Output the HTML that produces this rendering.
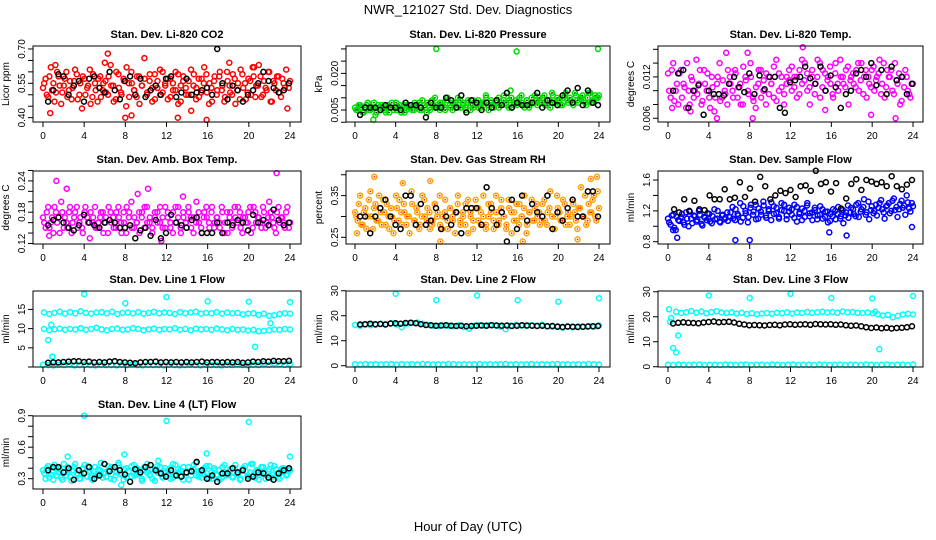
<!DOCTYPE html>
<html><head><meta charset="utf-8">
<style>
html,body{margin:0;padding:0;background:#fff;}
svg{display:block;font-family:"Liberation Sans",Arial,sans-serif;}
</style></head>
<body>
<svg id="chart" width="936" height="540" viewBox="0 0 936 540" xmlns="http://www.w3.org/2000/svg">
<rect x="0" y="0" width="936" height="540" fill="#fff"/>
<text x="468" y="14" text-anchor="middle" font-size="13">NWR_121027  Std. Dev. Diagnostics</text>
<text x="468" y="531" text-anchor="middle" font-size="13">Hour of Day (UTC)</text>
</svg>
<script>
// ---------- data ----------
const xTicks = [0,4,8,12,16,20,24];

const co2Red = [.53,.57,.49,.62,.55,.51,.58,.46,.54,.60,.52,.48,.56,.59,.50,.44,.57,.53,.61,.49,.55,.47,.58,.52,
.56,.50,.63,.54,.48,.59,.51,.57,.45,.55,.60,.52,.49,.58,.54,.66,.50,.56,.47,.59,.53,.61,.51,.55,
.48,.57,.52,.60,.46,.54,.58,.50,.56,.43,.59,.53,.49,.57,.62,.51,.55,.47,.58,.52,.60,.54,.49,.56,
.51,.59,.46,.55,.61,.53,.48,.57,.50,.58,.54,.63,.49,.56,.52,.60,.47,.55,.58,.51,.57,.53,.44,.56];
const co2Red2 = [.55,.50,.58,.52,.47,.60,.54,.51,.57,.49,.56,.53,.61,.48,.55,.58,.50,.54,.46,.59,.52,.57,.49,.55,
.51,.58,.54,.47,.60,.53,.50,.56,.62,.49,.55,.52,.58,.46,.54,.57,.51,.59,.53,.48,.56,.50,.60,.54,
.57,.49,.55,.52,.59,.47,.56,.53,.50,.61,.54,.48,.57,.51,.55,.59,.46,.53,.56,.50,.58,.52,.47,.60,
.54,.50,.57,.52,.48,.59,.55,.51,.56,.62,.49,.54,.58,.50,.53,.60,.47,.56,.52,.58,.49,.55,.61,.53];
const co2RedOutHours = [0.7,6.3,8.0,8.6,13.1,15.9,6.0,18.1,20.5,1.2];
const co2RedOutVals = [.42,.68,.40,.41,.40,.39,.64,.64,.62,.63];
const co2Black = [.47,.52,.59,.58,.50,.54,.56,.47,.57,.58,.53,.51,.60,.52,.48,.56,.58,.50,.57,.49,.52,.54,.50,.57,
.58,.49,.51,.57,.50,.51,.52,.53,.50,.70,.55,.48,.54,.52,.47,.50,.52,.55,.60,.56,.53,.51,.52,.55];

const presGreen = [.006,.005,.007,.004,.006,.008,.005,.006,.003,.007,.005,.006,.004,.007,.006,.005,.008,.006,.004,.007,.005,.006,.007,.005,
.006,.008,.005,.007,.004,.006,.009,.006,.007,.005,.008,.006,.010,.007,.005,.008,.006,.009,.007,.006,.008,.005,.009,.007,
.006,.008,.007,.010,.005,.008,.007,.009,.006,.008,.011,.007,.009,.006,.008,.007,.010,.008,.006,.009,.007,.008,.011,.007,
.008,.010,.007,.009,.006,.011,.008,.009,.007,.010,.012,.008,.009,.007,.011,.008,.010,.009,.007,.012,.008,.009,.010,.011];
const presGreen2 = [.005,.007,.006,.004,.007,.005,.006,.008,.004,.006,.007,.005,.006,.004,.008,.006,.005,.007,.006,.004,.007,.006,.005,.008,
.007,.005,.009,.006,.008,.005,.007,.010,.006,.008,.007,.005,.009,.006,.008,.007,.010,.006,.008,.005,.009,.007,.006,.008,
.009,.006,.008,.011,.007,.009,.006,.008,.010,.007,.009,.008,.006,.010,.007,.009,.008,.011,.007,.009,.006,.010,.008,.009,
.010,.008,.011,.007,.009,.012,.008,.010,.009,.007,.011,.009,.010,.008,.012,.009,.010,.011,.008,.010,.012,.009,.011,.010];
const presGreenOutHours = [8.0,15.9,23.9,1.8,15.3];
const presGreenOutVals = [.030,.029,.030,.001,.013];
const presBlack = [.003,.006,.006,.006,.005,.007,.006,.006,.005,.008,.007,.007,.006,.002,.008,.006,.006,.010,.009,.006,.011,.004,.009,.008,
.005,.008,.006,.009,.007,.012,.006,.008,.007,.007,.008,.012,.006,.009,.008,.007,.011,.013,.008,.014,.007,.013,.008,.007];

const tempMag = [.0125,.009,.014,.010,.008,.013,.011,.0075,.010,.012,.009,.0145,.011,.008,.013,.010,.009,.012,.007,.011,.014,.009,.010,.008,
.012,.010,.013,.009,.011,.008,.012,.010,.014,.009,.0075,.011,.013,.010,.008,.012,.011,.009,.0145,.010,.012,.008,.011,.013,
.010,.012,.009,.013,.011,.014,.010,.008,.012,.011,.0145,.009,.013,.010,.012,.011,.009,.014,.010,.012,.011,.013,.008,.012,
.011,.013,.010,.014,.012,.009,.011,.013,.010,.012,.0145,.011,.009,.013,.012,.010,.014,.011,.008,.012,.013,.010,.009,.011];
const tempMag2 = [.010,.013,.0085,.011,.0125,.009,.0105,.014,.008,.0115,.010,.0095,.013,.0085,.011,.0125,.0075,.0105,.009,.012,.0085,.0115,.0095,.013,
.011,.009,.0125,.0105,.008,.0135,.0115,.0095,.012,.0085,.0105,.013,.009,.0115,.0125,.0095,.011,.0135,.0085,.0125,.0105,.0095,.012,.0115,
.0135,.0105,.012,.0095,.0145,.0115,.0125,.0105,.013,.0095,.012,.014,.0105,.0125,.0115,.0135,.0095,.0125,.011,.0145,.012,.0105,.0135,.0115,
.0125,.0105,.014,.0115,.0095,.013,.012,.0105,.0135,.0115,.0125,.0095,.014,.0105,.012,.013,.0095,.0115,.0125,.0085,.0105,.012,.0095,.011];
const tempMagOutHours = [4.8,8.3,19.9,22.3,13.2,5.7,7.8,0.4,2.2,15.4];
const tempMagOutVals = [.006,.006,.0065,.006,.0163,.0155,.0155,.0075,.007,.0072];
const tempBlack = [.010,.0125,.013,.0075,.010,.0108,.0065,.010,.0095,.0095,.0093,.011,.012,.0105,.0098,.0125,.0095,.0122,.0102,.012,.012,.0075,.0068,.0112,
.0115,.012,.0135,.0118,.011,.0135,.010,.0122,.0105,.0075,.0095,.010,.0125,.013,.012,.014,.0108,.013,.0095,.0135,.0115,.012,.0095,.011];

const ambMag = [.17,.15,.19,.16,.14,.18,.17,.20,.15,.16,.18,.14,.17,.19,.16,.15,.18,.17,.13,.16,.19,.15,.17,.18,
.16,.14,.18,.17,.15,.19,.16,.18,.14,.17,.20,.15,.16,.18,.17,.15,.19,.16,.14,.17,.18,.16,.15,.19,
.17,.15,.18,.16,.19,.14,.17,.16,.18,.15,.17,.20,.16,.14,.18,.17,.15,.19,.16,.17,.15,.18,.16,.14,
.18,.16,.17,.19,.15,.17,.16,.18,.14,.19,.16,.17,.15,.18,.16,.20,.17,.15,.18,.16,.17,.15,.19,.16];
const ambMag2 = [.16,.18,.15,.17,.19,.16,.14,.18,.17,.15,.19,.16,.18,.15,.17,.14,.19,.16,.18,.17,.15,.16,.18,.14,
.17,.19,.16,.15,.18,.17,.14,.16,.19,.18,.15,.17,.16,.14,.18,.19,.16,.17,.15,.18,.16,.19,.17,.15,
.18,.16,.14,.19,.17,.15,.18,.16,.19,.17,.14,.16,.18,.15,.17,.19,.16,.18,.15,.17,.16,.19,.14,.18,
.17,.15,.19,.16,.18,.14,.17,.16,.19,.15,.18,.17,.16,.19,.15,.17,.18,.16,.14,.19,.17,.16,.18,.15];
const ambMagOutHours = [1.3,2.3,10.2,22.7,11.5,0.6,9.2,13.6];
const ambMagOutVals = [.24,.225,.225,.255,.125,.135,.215,.21];
const ambBlack = [.155,.165,.17,.16,.15,.145,.155,.175,.16,.155,.15,.16,.165,.16,.15,.15,.155,.13,.145,.15,.135,.165,.13,.14,
.175,.16,.155,.15,.165,.17,.14,.14,.14,.16,.14,.16,.155,.165,.16,.145,.175,.16,.165,.155,.185,.165,.155,.16];

const rhOrange = [.31,.29,.35,.28,.32,.30,.36,.27,.33,.29,.31,.34,.28,.30,.32,.26,.35,.29,.31,.33,.28,.30,.36,.29,
.32,.27,.30,.34,.29,.31,.28,.33,.30,.35,.27,.31,.29,.32,.30,.26,.33,.29,.31,.28,.34,.30,.27,.32,
.29,.31,.35,.28,.30,.33,.27,.31,.29,.34,.30,.28,.32,.26,.31,.29,.33,.30,.35,.28,.31,.29,.32,.30,
.28,.33,.29,.31,.36,.27,.30,.32,.29,.34,.28,.31,.30,.33,.29,.32,.37,.30,.28,.33,.31,.35,.29,.32];
const rhOrange2 = [.30,.33,.28,.31,.27,.34,.30,.32,.29,.35,.28,.31,.33,.27,.30,.29,.32,.34,.28,.31,.30,.26,.33,.29,
.31,.28,.35,.30,.32,.27,.29,.33,.31,.28,.30,.34,.27,.32,.29,.31,.35,.28,.30,.33,.26,.31,.29,.34,
.32,.28,.30,.27,.33,.31,.29,.35,.28,.32,.30,.27,.34,.31,.29,.33,.28,.30,.32,.26,.31,.34,.29,.33,
.31,.29,.34,.28,.32,.30,.27,.35,.31,.29,.33,.30,.28,.34,.31,.27,.32,.30,.35,.29,.31,.34,.30,.36];
const rhOrangeOutHours = [1.9,7.4,23.2,23.8,16.5,21.9,8.4,4.7,0.2];
const rhOrangeOutVals = [.395,.385,.39,.395,.24,.245,.24,.38,.26];
const rhBlack = [.30,.30,.26,.30,.32,.34,.30,.28,.27,.35,.35,.28,.33,.28,.29,.32,.27,.30,.28,.31,.26,.32,.32,.32,
.28,.37,.32,.28,.31,.24,.34,.27,.35,.29,.33,.31,.30,.35,.27,.31,.29,.32,.34,.30,.30,.36,.36,.30];

const flowBlue = [1.10,1.02,1.15,0.95,1.08,1.12,1.05,1.18,1.00,1.10,1.14,1.06,1.20,1.03,1.12,1.08,1.16,1.04,1.22,1.10,1.06,1.14,1.09,1.18,
1.12,1.25,1.08,1.16,1.30,1.11,1.20,1.05,1.24,1.15,1.28,1.10,1.19,1.32,1.14,1.22,1.08,1.26,1.17,1.12,1.30,1.20,1.09,1.24,
1.15,1.28,1.06,1.18,1.23,1.12,1.30,1.17,1.08,1.21,1.14,1.26,1.10,1.19,1.05,1.16,1.22,1.09,1.25,1.13,1.04,1.18,1.11,1.24,
1.16,1.28,1.12,1.22,1.35,1.18,1.09,1.26,1.20,1.14,1.30,1.22,1.10,1.27,1.17,1.33,1.21,1.12,1.29,1.24,1.15,1.31,1.19,1.26];
const flowBlue2 = [1.05,1.14,0.98,1.12,1.07,1.16,1.02,1.10,1.19,1.04,1.13,1.08,1.15,1.01,1.11,1.17,1.06,1.13,1.09,1.20,1.05,1.15,1.11,1.07,
1.18,1.10,1.22,1.14,1.06,1.26,1.17,1.12,1.28,1.19,1.09,1.23,1.15,1.27,1.11,1.20,1.31,1.16,1.24,1.10,1.21,1.28,1.14,1.19,
1.22,1.11,1.25,1.16,1.08,1.20,1.27,1.13,1.18,1.24,1.09,1.15,1.22,1.12,1.19,1.07,1.13,1.20,1.16,1.10,1.21,1.14,1.27,1.18,
1.22,1.13,1.30,1.19,1.25,1.15,1.32,1.21,1.17,1.28,1.24,1.34,1.18,1.26,1.30,1.20,1.36,1.25,1.22,1.33,1.27,1.40,1.23,1.30];
const flowBlueOutHours = [0.9,6.6,8.0,17.5,15.8,23.9,0.5];
const flowBlueOutVals = [.85,.82,.82,.88,.92,.99,.95];
const flowBlack = [1.22,1.18,1.35,1.20,1.33,1.22,1.21,1.40,1.35,1.35,1.48,1.35,1.37,1.57,1.38,1.49,1.32,1.64,1.52,1.35,1.40,1.46,1.43,1.47,
1.38,1.52,1.53,1.46,1.72,1.55,1.57,1.45,1.56,1.23,1.36,1.55,1.61,1.47,1.60,1.58,1.55,1.57,1.52,1.65,1.52,1.48,1.54,1.60];

const l1High = [14.2,13.8,14.1,14.4,13.9,14.3,14.0,14.5,14.1,13.9,14.2,14.3,14.0,14.4,13.8,14.1,14.2,14.0,14.3,13.9,14.1,14.4,14.0,14.2,
14.1,13.8,14.3,14.0,14.2,14.4,13.9,14.1,14.0,14.3,13.9,14.2,14.0,14.1,13.7,13.9,14.0,13.6,13.9,13.3,13.5,13.8,14.0,13.9];
const l1Mid = [9.9,9.6,9.8,10.0,9.7,9.9,9.8,10.1,9.7,9.9,10.2,9.8,9.6,9.9,10.0,9.7,9.8,10.1,9.9,9.6,9.8,10.0,9.7,9.9,
9.8,10.1,9.7,9.9,9.6,10.0,9.8,9.9,9.7,10.0,9.8,9.6,9.9,9.7,9.8,9.5,9.7,9.3,9.4,9.6,9.8,9.7,9.9,9.8];
const l1Low = [0.6,0.5,0.4,0.6,0.5,0.7,0.4,0.5,0.6,0.5,0.4,0.6,0.5,0.5,0.4,0.6,0.5,0.7,0.5,0.4,0.6,0.5,0.5,0.4,
0.6,0.5,0.4,0.5,0.6,0.5,0.4,0.6,0.5,0.5,0.4,0.6,0.5,0.7,0.5,0.4,0.6,0.5,0.8,0.6,0.9,0.7,0.6,0.8];
const l1CyanOutHours = [4.0,8.0,12.0,16.0,20.0,24.0,0.5,0.8,20.6,22.1,0.9];
const l1CyanOutVals = [19.0,16.6,18.2,17.1,17.0,16.9,7.0,11.0,5.3,11.4,2.7];
const l1Black = [1.1,1.2,1.2,1.3,1.4,1.5,1.5,1.3,1.4,1.2,1.3,1.2,1.4,1.5,1.3,1.2,1.1,1.0,1.2,1.3,1.3,1.4,1.2,1.3,
1.2,1.3,1.2,1.3,1.2,1.3,1.4,1.2,1.3,1.3,1.2,1.3,1.2,1.3,1.1,1.2,1.4,1.3,1.5,1.4,1.6,1.5,1.5,1.6];

const l2Band = [16.3,16.0,16.5,16.2,16.4,16.8,16.6,17.0,16.5,15.4,16.9,17.1,17.3,16.8,16.3,16.0,15.9,16.1,16.0,15.8,16.2,15.5,14.8,16.0,
16.2,16.0,16.3,16.1,15.6,14.6,16.0,16.3,16.1,15.9,16.2,16.0,16.4,15.8,15.6,15.9,15.2,15.6,15.4,15.8,15.5,15.9,15.6,16.1];
const l2Low = [0.6,0.5,0.7,0.5,0.6,0.5,0.6,0.7,0.5,0.6,0.5,0.6,0.5,0.7,0.6,0.5,0.6,0.5,0.7,0.6,0.5,0.6,0.5,0.6,
0.7,0.5,0.6,0.5,0.6,0.7,0.5,0.6,0.5,0.6,0.7,0.5,0.6,0.5,0.6,0.7,0.5,0.6,0.5,0.6,0.5,0.7,0.6,0.5];
const l2CyanOutHours = [4.0,8.0,12.0,16.0,20.0,24.0];
const l2CyanOutVals = [28.8,26.2,28.1,26.2,25.6,27.0];
const l2Black = [16.5,16.6,16.8,16.6,16.7,16.5,16.9,17.0,16.8,17.1,17.2,17.0,16.6,16.3,16.2,16.0,16.1,16.2,16.0,15.9,16.0,15.8,15.9,16.0,
16.1,16.0,16.2,16.1,16.0,16.1,15.9,16.0,16.2,16.1,16.0,15.9,16.0,15.8,15.9,15.6,15.5,15.7,15.6,15.5,15.6,15.7,15.8,15.9];

const l3Band = [22.0,21.5,21.8,22.3,21.6,22.1,21.4,21.9,22.2,21.7,21.5,21.8,21.3,21.6,21.1,21.4,21.0,21.3,21.5,21.2,21.6,21.4,21.8,21.3,
21.7,21.5,21.9,21.6,21.8,22.0,21.7,21.9,21.6,22.1,21.8,21.9,21.6,21.5,21.7,21.4,21.0,20.5,20.8,19.8,20.4,20.9,21.2,20.9];
const l3Low = [0.8,0.7,0.9,0.8,0.7,0.8,0.9,0.7,0.8,0.8,0.7,0.9,0.8,0.7,0.8,0.9,0.7,0.8,0.8,0.7,0.9,0.8,0.7,0.8,
0.9,0.7,0.8,0.8,0.7,0.9,0.8,0.7,0.8,0.9,0.7,0.8,0.8,0.7,0.9,0.8,0.7,0.8,0.9,0.7,0.8,0.8,0.7,0.9];
const l3CyanOutHours = [0.1,0.3,0.5,0.8,1.0,4.0,8.0,12.0,16.0,20.0,24.0,20.3,20.7,0.2];
const l3CyanOutVals = [23.0,19.5,7.5,5.7,12.5,28.5,27.5,29.2,27.5,27.3,28.3,22.0,7.0,18.0];
const l3Black = [17.3,17.6,17.8,17.6,17.5,17.4,17.7,17.9,18.1,17.8,17.9,18.0,17.7,17.2,16.9,16.6,16.7,16.6,16.5,16.7,16.8,16.6,16.9,17.0,
16.8,16.9,17.0,16.8,17.1,17.0,16.9,17.0,16.8,16.9,16.6,16.4,16.5,16.2,15.8,15.5,15.7,15.4,15.6,15.3,15.5,15.6,15.8,16.2];

const l4Cyan = [.38,.30,.42,.34,.29,.40,.36,.31,.44,.33,.38,.28,.41,.35,.30,.39,.43,.32,.37,.29,.41,.34,.38,.31,
.36,.42,.30,.39,.33,.45,.35,.29,.40,.37,.32,.43,.34,.38,.30,.41,.36,.33,.39,.28,.42,.35,.31,.40,
.37,.30,.44,.34,.39,.32,.41,.36,.29,.38,.43,.33,.37,.31,.40,.35,.42,.30,.38,.34,.29,.41,.36,.33,
.39,.31,.43,.35,.30,.40,.37,.32,.44,.34,.38,.29,.41,.36,.33,.39,.31,.42,.35,.30,.40,.37,.34,.38];
const l4Cyan2 = [.35,.40,.31,.37,.43,.33,.39,.29,.36,.41,.32,.38,.44,.34,.30,.40,.36,.42,.31,.37,.33,.39,.45,.35,
.32,.38,.41,.29,.36,.43,.34,.39,.31,.37,.42,.33,.40,.35,.28,.38,.44,.34,.30,.39,.36,.41,.32,.37,
.34,.40,.31,.43,.36,.38,.29,.35,.41,.33,.39,.45,.32,.37,.34,.42,.30,.36,.40,.33,.38,.31,.43,.35,
.37,.32,.40,.34,.29,.39,.42,.33,.36,.44,.31,.38,.35,.41,.30,.37,.43,.34,.39,.32,.36,.40,.33,.38];
const l4CyanOutHours = [4.0,12.0,20.0,2.4,7.9,15.9,24.0,11.2,7.6];
const l4CyanOutVals = [.90,.85,.84,.51,.53,.54,.51,.47,.24];
const l4Black = [.38,.41,.41,.36,.40,.29,.38,.35,.41,.30,.33,.44,.37,.41,.38,.34,.27,.39,.36,.41,.43,.38,.35,.32,
.38,.33,.32,.36,.37,.46,.38,.30,.33,.27,.35,.35,.40,.36,.38,.30,.32,.36,.35,.31,.29,.35,.38,.40];

// ---------- panels ----------
const cols = [
  {l:33,r:301,x0:43,x1:290},
  {l:346,r:610,x0:355,x1:599},
  {l:658,r:923,x0:668,x1:913}
];
const rows = [{t:46,b:122},{t:171,b:244},{t:291,b:367},{t:416,b:489}];

const panels = [
 {name:'co2',title:'Stan. Dev. Li-820 CO2',ylab:'Licor ppm',c:0,r:0,ymin:0.381,ymax:0.713,
  ticks:[.40,.45,.50,.55,.60,.65,.70],labels:[[.40,'0.40'],[.55,'0.55'],[.70,'0.70']],
  series:[{v:co2Red,col:'#ff0000'},{v:co2Red2,col:'#ff0000',start:0.12,end:23.88},{h:co2RedOutHours,v:co2RedOutVals,col:'#ff0000'},{v:co2Black,col:'#000',start:0.5,end:23.9}]},
 {name:'pressure',title:'Stan. Dev. Li-820 Pressure',ylab:'kPa',c:1,r:0,ymin:0.0001,ymax:0.0312,
  ticks:[0,.005,.010,.015,.020,.025,.030],labels:[[.005,'0.005'],[.020,'0.020']],
  series:[{v:presGreen,col:'#00dd00',dot:'#003300'},{v:presGreen2,col:'#00dd00',dot:'#003300',start:0.12,end:23.88},{h:presGreenOutHours,v:presGreenOutVals,col:'#00dd00'},{v:presBlack,col:'#000',start:0.5,end:23.9}]},
 {name:'li-temp',title:'Stan. Dev. Li-820 Temp.',ylab:'degrees C',c:2,r:0,ymin:0.00546,ymax:0.01648,
  ticks:[.006,.008,.010,.012,.014,.016],labels:[[.006,'0.006'],[.012,'0.012']],
  series:[{v:tempMag,col:'#ff00ff'},{v:tempMag2,col:'#ff00ff',start:0.12,end:23.88},{h:tempMagOutHours,v:tempMagOutVals,col:'#ff00ff'},{v:tempBlack,col:'#000',start:0.5,end:23.9}]},
 {name:'amb-box-temp',title:'Stan. Dev. Amb. Box Temp.',ylab:'degrees C',c:0,r:1,ymin:0.119,ymax:0.259,
  ticks:[.12,.14,.16,.18,.20,.22,.24,.26],labels:[[.12,'0.12'],[.18,'0.18'],[.24,'0.24']],
  series:[{v:ambMag,col:'#ff00ff'},{v:ambMag2,col:'#ff00ff',start:0.12,end:23.88},{h:ambMagOutHours,v:ambMagOutVals,col:'#ff00ff'},{v:ambBlack,col:'#000',start:0.5,end:23.9}]},
 {name:'gas-rh',title:'Stan. Dev. Gas Stream RH',ylab:'percent',c:1,r:1,ymin:0.234,ymax:0.409,
  ticks:[.25,.30,.35,.40],labels:[[.25,'0.25'],[.35,'0.35']],
  series:[{v:rhOrange,col:'#ffa500',dot:'#ff0000'},{v:rhOrange2,col:'#ffa500',dot:'#ff0000',start:0.12,end:23.88},{h:rhOrangeOutHours,v:rhOrangeOutVals,col:'#ffa500',dot:'#ff0000'},{v:rhBlack,col:'#000',start:0.5,end:23.9}]},
 {name:'sample-flow',title:'Stan. Dev. Sample Flow',ylab:'ml/min',c:2,r:1,ymin:0.77,ymax:1.717,
  ticks:[.8,1.0,1.2,1.4,1.6],labels:[[.8,'0.8'],[1.2,'1.2'],[1.6,'1.6']],
  series:[{v:flowBlue,col:'#0000ff'},{v:flowBlue2,col:'#0000ff',start:0.12,end:23.88},{h:flowBlueOutHours,v:flowBlueOutVals,col:'#0000ff'},{v:flowBlack,col:'#000',start:0.6,end:23.9}]},
 {name:'line1-flow',title:'Stan. Dev. Line 1 Flow',ylab:'ml/min',c:0,r:2,ymin:0,ymax:19.8,
  ticks:[0,5,10,15],labels:[[5,'5'],[10,'10'],[15,'15']],
  series:[{v:l1High,col:'#00ffff',start:0.1},{v:l1Mid,col:'#00ffff',start:0.1},{v:l1Low,col:'#00ffff'},{h:l1CyanOutHours,v:l1CyanOutVals,col:'#00ffff'},{v:l1Black,col:'#000',start:0.5,end:23.9}]},
 {name:'line2-flow',title:'Stan. Dev. Line 2 Flow',ylab:'ml/min',c:1,r:2,ymin:-0.52,ymax:29.9,
  ticks:[0,10,20,30],labels:[[0,'0'],[10,'10'],[20,'20'],[30,'30']],
  series:[{v:l2Band,col:'#00ffff'},{v:l2Low,col:'#00ffff'},{h:l2CyanOutHours,v:l2CyanOutVals,col:'#00ffff'},{v:l2Black,col:'#000',start:0.5,end:23.9}]},
 {name:'line3-flow',title:'Stan. Dev. Line 3 Flow',ylab:'ml/min',c:2,r:2,ymin:-0.1,ymax:30.3,
  ticks:[0,10,20,30],labels:[[0,'0'],[10,'10'],[20,'20'],[30,'30']],
  series:[{v:l3Band,col:'#00ffff',start:0.8},{v:l3Low,col:'#00ffff'},{h:l3CyanOutHours,v:l3CyanOutVals,col:'#00ffff'},{v:l3Black,col:'#000',start:0.5,end:23.9}]},
 {name:'line4-flow',title:'Stan. Dev. Line 4 (LT) Flow',ylab:'ml/min',c:0,r:3,ymin:0.2019,ymax:0.897,
  ticks:[.3,.4,.5,.6,.7,.8,.9],labels:[[.3,'0.3'],[.6,'0.6'],[.9,'0.9']],
  series:[{v:l4Cyan,col:'#00ffff'},{v:l4Cyan2,col:'#00ffff',start:0.12,end:23.88},{h:l4CyanOutHours,v:l4CyanOutVals,col:'#00ffff'},{v:l4Black,col:'#000',start:0.5,end:23.9}]}
];

const NS = 'http://www.w3.org/2000/svg';
const svg = document.getElementById('chart');
function mk(tag, attrs, parent){
  const e = document.createElementNS(NS, tag);
  for (const k in attrs) e.setAttribute(k, attrs[k]);
  parent.appendChild(e);
  return e;
}

panels.forEach(p => {
  const C = cols[p.c], R = rows[p.r];
  const xs = h => C.x0 + (C.x1 - C.x0) * h / 24;
  const ys = v => R.b - (R.b - R.t) * (v - p.ymin) / (p.ymax - p.ymin);
  const g = mk('g', {}, svg);
  
  

  const t = mk('text', {x:(C.l + C.r)/2, y:R.t - 8, 'text-anchor':'middle', 'font-size':'11', 'font-weight':'bold'}, g);
  
  
  t.textContent = p.title;

  const yl = mk('text', {x:0, y:0, 'text-anchor':'middle', 'font-size':'10', transform:'translate(' + (C.l - 24) + ',' + ((R.t + R.b)/2) + ') rotate(-90)'}, g);
  
  
  yl.textContent = p.ylab;

  const pts = mk('g', {}, g);
  
  
  p.series.forEach(s => {
    const n = s.v.length;
    const st = s.start !== undefined ? s.start : 0;
    const en = s.end !== undefined ? s.end : 24;
    s.v.forEach((val, i) => {
      const h = s.h ? s.h[i] : st + (en - st) * i / Math.max(1, n - 1);
      const cx = xs(h), cy = ys(val);
      const c = mk('circle', {cx:cx.toFixed(1), cy:cy.toFixed(1), r:'2.5', fill:'none', stroke:s.col, 'stroke-width':'1.5'}, pts);
      
      
      if (s.dot) {
        const d = mk('circle', {cx:cx.toFixed(1), cy:cy.toFixed(1), r:'0.8', fill:s.dot}, pts);
        
        
      }
    });
  });

  const box = mk('rect', {x:C.l, y:R.t, width:C.r - C.l, height:R.b - R.t, fill:'none', stroke:'#000', 'stroke-width':'1'}, g);
  
  

  xTicks.forEach(h => {
    const x = xs(h);
    const tk = mk('line', {x1:x, x2:x, y1:R.b, y2:R.b + 5, stroke:'#000', 'stroke-width':'1'}, g);
    
    
    const lb = mk('text', {x:x, y:R.b + 17, 'text-anchor':'middle', 'font-size':'10'}, g);
    
    
    lb.textContent = h;
  });
  p.ticks.forEach(v => {
    const y = ys(v);
    const tk = mk('line', {x1:C.l - 5, x2:C.l, y1:y, y2:y, stroke:'#000', 'stroke-width':'1'}, g);
    
    
  });
  p.labels.forEach(([v, s]) => {
    const y = ys(v);
    const lb = mk('text', {x:0, y:0, 'text-anchor':'middle', 'font-size':'10', transform:'translate(' + (C.l - 8) + ',' + y + ') rotate(-90)'}, g);
    
    
    lb.textContent = s;
  });
});
</script>
</body></html>
